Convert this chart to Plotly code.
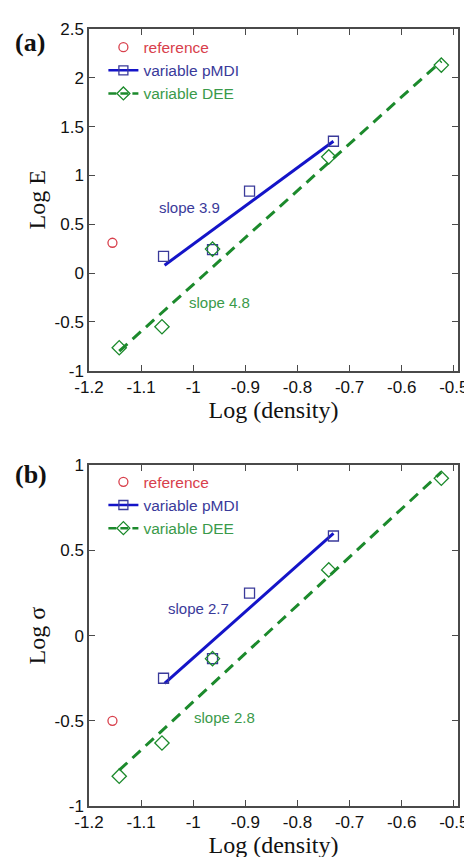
import plotly.graph_objects as go

# ---------------- data ----------------
ref_x = [-1.155]
ref_E = [0.31]
ref_S = [-0.50]

pmdi_x = [-1.057, -0.963, -0.892, -0.731]
pmdi_E = [0.17, 0.24, 0.84, 1.35]
pmdi_S = [-0.25, -0.135, 0.25, 0.585]

dee_x = [-1.142, -1.060, -0.963, -0.740, -0.524]
dee_E = [-0.765, -0.55, 0.245, 1.19, 2.13]
dee_S = [-0.825, -0.63, -0.135, 0.386, 0.924]

# fitted lines (end points)
fit_pmdi_x = [-1.055, -0.731]
fit_pmdi_E = [0.08, 1.35]
fit_pmdi_S = [-0.28, 0.60]
fit_dee_x = [-1.142, -0.524]
fit_dee_E = [-0.80, 2.17]
fit_dee_S = [-0.79, 0.96]

x_ticks = [-1.2, -1.1, -1.0, -0.9, -0.8, -0.7, -0.6, -0.5]
x_labels = ["-1.2", "-1.1", "-1", "-0.9", "-0.8", "-0.7", "-0.6", "-0.5"]
yE_ticks = [-1, -0.5, 0, 0.5, 1, 1.5, 2, 2.5]
yE_labels = ["-1", "-0.5", "0", "0.5", "1", "1.5", "2", "2.5"]
yS_ticks = [-1, -0.5, 0, 0.5, 1]
yS_labels = ["-1", "-0.5", "0", "0.5", "1"]

names = ["reference", "variable pMDI", "variable DEE"]
slope_E = ["slope 3.9", "slope 4.8"]
slope_S = ["slope 2.7", "slope 2.8"]

# ---------------- styles ----------------
RED = "#d8404c"
BLUE = "#1414c8"
BLUE_M = "#3a3a9a"
GREEN = "#1c8a2c"
GREEN_T = "#3a9a4a"
SANS = "Liberation Sans, Arial, sans-serif"
SERIF = "Liberation Serif, Times New Roman, serif"

fig = go.Figure()

def add_panel(xa, ya, legend, ref_y, pm_y, dee_y, fpm_y, fdee_y):
    # fit lines
    fig.add_trace(go.Scatter(x=fit_pmdi_x, y=fpm_y, mode="lines",
                             line=dict(color=BLUE, width=3), showlegend=False,
                             xaxis=xa, yaxis=ya, hoverinfo="skip"))
    fig.add_trace(go.Scatter(x=fit_dee_x, y=fdee_y, mode="lines",
                             line=dict(color=GREEN, width=3, dash="11px,7px"),
                             showlegend=False, xaxis=xa, yaxis=ya, hoverinfo="skip"))
    # data markers
    fig.add_trace(go.Scatter(x=ref_x, y=ref_y, mode="markers",
                             marker=dict(symbol="circle-open", size=9, color=RED,
                                         line=dict(width=1.3, color=RED)),
                             showlegend=False, xaxis=xa, yaxis=ya))
    fig.add_trace(go.Scatter(x=pmdi_x, y=pm_y, mode="markers",
                             marker=dict(symbol="square-open", size=10, color=BLUE_M,
                                         line=dict(width=1.3, color=BLUE_M)),
                             showlegend=False, xaxis=xa, yaxis=ya))
    fig.add_trace(go.Scatter(x=dee_x, y=dee_y, mode="markers",
                             marker=dict(symbol="diamond-open", size=11, color=GREEN,
                                         line=dict(width=1.3, color=GREEN)),
                             showlegend=False, xaxis=xa, yaxis=ya))
    # legend entries
    fig.add_trace(go.Scatter(x=[None], y=[None], mode="markers",
                             name=f"<span style='color:{RED}'>{names[0]}</span>",
                             marker=dict(symbol="circle-open", size=9, color=RED,
                                         line=dict(width=1.3, color=RED)),
                             legend=legend, xaxis=xa, yaxis=ya))
    fig.add_trace(go.Scatter(x=[None], y=[None], mode="lines+markers",
                             name=f"<span style='color:{BLUE_M}'>{names[1]}</span>",
                             line=dict(color=BLUE, width=2.5),
                             marker=dict(symbol="square-open", size=9, color=BLUE_M,
                                         line=dict(width=1.3, color=BLUE_M)),
                             legend=legend, xaxis=xa, yaxis=ya))
    fig.add_trace(go.Scatter(x=[None], y=[None], mode="lines+markers",
                             name=f"<span style='color:{GREEN_T}'>{names[2]}</span>",
                             line=dict(color=GREEN, width=2.5, dash="8px,4px"),
                             marker=dict(symbol="diamond-open", size=10, color=GREEN,
                                         line=dict(width=1.3, color=GREEN)),
                             legend=legend, xaxis=xa, yaxis=ya))

add_panel("x", "y", "legend", ref_E, pmdi_E, dee_E, fit_pmdi_E, fit_dee_E)
add_panel("x2", "y2", "legend2", ref_S, pmdi_S, dee_S, fit_pmdi_S, fit_dee_S)

axis_common = dict(showgrid=False, zeroline=False, showline=True, mirror="ticks",
                   linecolor="#4a4a4a", linewidth=1.5, ticks="inside", ticklen=6,
                   tickwidth=1.3, tickcolor="#4a4a4a",
                   tickfont=dict(family=SANS, size=17, color="#111111"))

x_range = [-1.2, -0.492]
TITLE_FONT = dict(family=SERIF, size=24, color="#111")

layout = dict(
    width=472, height=857,
    paper_bgcolor="white", plot_bgcolor="white",
    margin=dict(l=81, r=12, t=20, b=57),
    showlegend=True,
    xaxis=dict(axis_common, domain=[0, 1], range=x_range, anchor="y",
               tickvals=x_ticks, ticktext=x_labels,
               title=dict(text="Log (density)", font=TITLE_FONT, standoff=4)),
    yaxis=dict(axis_common, domain=[0.5603, 1.0], range=[-1, 2.5], anchor="x",
               tickvals=yE_ticks, ticktext=yE_labels,
               title=dict(text="Log E", font=TITLE_FONT, standoff=2)),
    xaxis2=dict(axis_common, domain=[0, 1], range=x_range, anchor="y2",
                tickvals=x_ticks, ticktext=x_labels,
                title=dict(text="Log (density)", font=TITLE_FONT, standoff=4)),
    yaxis2=dict(axis_common, domain=[0.0, 0.4385], range=[-1, 1], anchor="x2",
                tickvals=yS_ticks, ticktext=yS_labels,
                title=dict(text="Log σ", font=TITLE_FONT, standoff=2)),
    legend=dict(x=0.039, y=0.998, xref="paper", yref="paper", xanchor="left", yanchor="top",
                bgcolor="rgba(0,0,0,0)", font=dict(family=SANS, size=15.5),
                itemwidth=30, tracegroupgap=0),
    legend2=dict(x=0.039, y=0.4385, xref="paper", yref="paper", xanchor="left", yanchor="top",
                 bgcolor="rgba(0,0,0,0)", font=dict(family=SANS, size=15.5),
                 itemwidth=30, tracegroupgap=0),
)
fig.update_layout(**layout)

ann = [
    dict(text="<b>(a)</b>", x=-0.205, y=0.983, xref="paper", yref="paper", xanchor="left", yanchor="middle",
         showarrow=False, font=dict(family=SERIF, size=26, color="#111")),
    dict(text="<b>(b)</b>", x=-0.205, y=0.427, xref="paper", yref="paper", xanchor="left", yanchor="middle",
         showarrow=False, font=dict(family=SERIF, size=26, color="#111")),
    dict(text=slope_E[0], x=-1.007, y=0.67, xref="x", yref="y", showarrow=False,
         font=dict(family=SANS, size=15, color=BLUE_M)),
    dict(text=slope_E[1], x=-0.95, y=-0.30, xref="x", yref="y", showarrow=False,
         font=dict(family=SANS, size=15, color=GREEN_T)),
    dict(text=slope_S[0], x=-0.99, y=0.16, xref="x2", yref="y2", showarrow=False,
         font=dict(family=SANS, size=15, color=BLUE_M)),
    dict(text=slope_S[1], x=-0.94, y=-0.48, xref="x2", yref="y2", showarrow=False,
         font=dict(family=SANS, size=15, color=GREEN_T)),
]
fig.update_layout(annotations=ann)

fig.write_html("out.html")
